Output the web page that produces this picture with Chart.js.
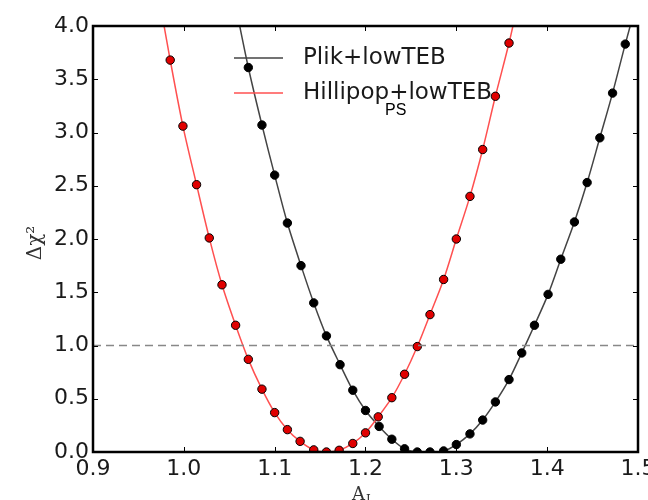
<!DOCTYPE html>
<html>
<head>
<meta charset="utf-8">
<script src="https://cdn.jsdelivr.net/npm/chart.js@4/dist/chart.umd.min.js"></script>
<style>
  html, body { margin: 0; padding: 0; background: #fff; }
  #wrap { width: 648px; height: 500px; }
</style>
</head>
<body>
<div id="wrap"><canvas id="chi2Chart" width="648" height="500"></canvas></div>
<script>
// values (first/last entry of each series is where the curve leaves the frame)
const hillX = [0.971, 0.985, 0.999, 1.014, 1.028, 1.042, 1.057, 1.071, 1.086, 1.100, 1.114, 1.128, 1.143, 1.157,
    1.171, 1.186, 1.200, 1.214, 1.229, 1.243, 1.257, 1.271, 1.286, 1.300, 1.315, 1.329, 1.343, 1.358, 1.372];
const hillY = [4.35, 3.68, 3.06, 2.51, 2.01, 1.57, 1.19, 0.87, 0.59, 0.37, 0.21, 0.10, 0.02, 0.0,
    0.016, 0.08, 0.18, 0.33, 0.51, 0.73, 0.99, 1.29, 1.62, 2.00, 2.40, 2.84, 3.34, 3.84, 4.37];
const plikX = [1.057, 1.071, 1.086, 1.100, 1.114, 1.129, 1.143, 1.157, 1.172, 1.186, 1.200, 1.215, 1.229, 1.243,
    1.257, 1.271, 1.286, 1.300, 1.315, 1.329, 1.343, 1.358, 1.372, 1.386, 1.401, 1.415, 1.430, 1.444,
    1.458, 1.472, 1.486, 1.501];
const plikY = [4.19, 3.61, 3.07, 2.60, 2.15, 1.75, 1.40, 1.09, 0.82, 0.58, 0.39, 0.24, 0.12, 0.03,
    0.0, 0.0, 0.01, 0.07, 0.17, 0.30, 0.47, 0.68, 0.93, 1.19, 1.48, 1.81, 2.16, 2.53,
    2.95, 3.37, 3.83, 4.30];
const refLineX = [0.9, 1.5];
const refLineY = [1, 1];
const xTicks = [0.9, 1.0, 1.1, 1.2, 1.3, 1.4, 1.5];
const yTicks = [0.0, 0.5, 1.0, 1.5, 2.0, 2.5, 3.0, 3.5, 4.0];
const legendLabels = ['Plik+lowTEB', 'Hillipop+lowTEB'];

const toPoints = (xs, ys) => xs.map((x, i) => ({ x: x, y: ys[i] }));
// hide the marker on the two edge entries
const edgeRadius = (n) => (ctx) => (ctx.dataIndex === 0 || ctx.dataIndex === n - 1) ? 0 : 4.2;

const axisFont = { family: 'DejaVu Sans', size: 22 };

const framePlugin = {
    id: 'frame',
    afterDraw(chart) {
        const { ctx, chartArea: a, scales } = chart;
        ctx.save();
        // inward ticks on all four sides
        ctx.strokeStyle = '#000';
        ctx.lineWidth = 1;
        ctx.beginPath();
        for (const t of xTicks) {
            const px = Math.round(scales.x.getPixelForValue(t)) + 0.5;
            ctx.moveTo(px, a.bottom); ctx.lineTo(px, a.bottom - 5);
            ctx.moveTo(px, a.top); ctx.lineTo(px, a.top + 5);
        }
        for (const t of yTicks) {
            const py = Math.round(scales.y.getPixelForValue(t)) + 0.5;
            ctx.moveTo(a.left, py); ctx.lineTo(a.left + 5, py);
            ctx.moveTo(a.right, py); ctx.lineTo(a.right - 5, py);
        }
        ctx.stroke();
        // frame
        ctx.lineWidth = 2.5;
        ctx.strokeRect(a.left, a.top, a.right - a.left, a.bottom - a.top);

        // legend
        const colors = ['#444', '#ff5050'];
        legendLabels.forEach((label, i) => {
            const y = 58 + i * 35;
            ctx.strokeStyle = colors[i];
            ctx.lineWidth = 1.5;
            ctx.beginPath();
            ctx.moveTo(234, y); ctx.lineTo(283, y);
            ctx.stroke();
            ctx.fillStyle = '#1a1a1a';
            ctx.font = '23px "DejaVu Sans"';
            ctx.textBaseline = 'middle';
            ctx.textAlign = 'left';
            ctx.fillText(label, 303, y);
        });
        ctx.fillStyle = '#000';
        ctx.font = '16px "Liberation Sans"';
        ctx.textBaseline = 'top';
        ctx.fillText('PS', 385, 103);

        // axis titles
        ctx.fillStyle = '#333';
        ctx.save();
        ctx.translate(36, 243);
        ctx.rotate(-Math.PI / 2);
        ctx.font = '20px "DejaVu Serif"';
        ctx.textAlign = 'center';
        ctx.textBaseline = 'middle';
        ctx.fillText('Δχ²', 0, 0);
        ctx.restore();
        ctx.font = '18px "DejaVu Serif"';
        ctx.textAlign = 'left';
        ctx.textBaseline = 'top';
        ctx.fillText('A', 352, 486);
        ctx.font = '12px "DejaVu Serif"';
        ctx.fillText('L', 366, 495);
        ctx.restore();
    },
};

const ctx = document.getElementById('chi2Chart').getContext('2d');
new Chart(ctx, {
    type: 'scatter',
    data: {
        datasets: [
            {
                label: 'ref',
                data: toPoints(refLineX, refLineY),
                showLine: true,
                borderColor: '#888',
                borderWidth: 1.5,
                borderDash: [8, 5],
                pointRadius: 0,
            },
            {
                label: legendLabels[1],
                data: toPoints(hillX, hillY),
                showLine: true,
                borderColor: '#ff5050',
                borderWidth: 1.5,
                tension: 0.3,
                pointRadius: edgeRadius(hillX.length),
                pointBackgroundColor: '#e00000',
                pointBorderColor: '#000',
                pointBorderWidth: 1,
            },
            {
                label: legendLabels[0],
                data: toPoints(plikX, plikY),
                showLine: true,
                borderColor: '#444',
                borderWidth: 1.5,
                tension: 0.3,
                pointRadius: edgeRadius(plikX.length),
                pointBackgroundColor: '#000',
                pointBorderColor: '#000',
                pointBorderWidth: 1,
            },
        ],
    },
    options: {
        responsive: false,
        animation: false,
        layout: { padding: { top: 26, right: 10, left: 0, bottom: 0 } },
        plugins: {
            legend: { display: false },
            tooltip: { enabled: false },
        },
        scales: {
            x: {
                type: 'linear',
                min: 0.9,
                max: 1.5,
                grid: { display: false, drawTicks: false },
                border: { display: false },
                afterBuildTicks: (s) => { s.ticks = xTicks.map((v) => ({ value: v })); },
                afterFit: (s) => { s.height = 48; s.paddingLeft = 0; s.paddingRight = 0; },
                ticks: {
                    font: axisFont,
                    color: '#1a1a1a',
                    padding: 4,
                    maxRotation: 0,
                    callback: (v) => v.toFixed(1),
                },
            },
            y: {
                min: 0,
                max: 4,
                grid: { display: false, drawTicks: false },
                border: { display: false },
                afterBuildTicks: (s) => { s.ticks = yTicks.map((v) => ({ value: v })); },
                afterFit: (s) => { s.width = 93; s.paddingTop = 0; s.paddingBottom = 0; },
                ticks: {
                    font: axisFont,
                    color: '#1a1a1a',
                    padding: 4,
                    callback: (v) => v.toFixed(1),
                },
            },
        },
    },
    plugins: [framePlugin],
});
</script>
</body>
</html>
